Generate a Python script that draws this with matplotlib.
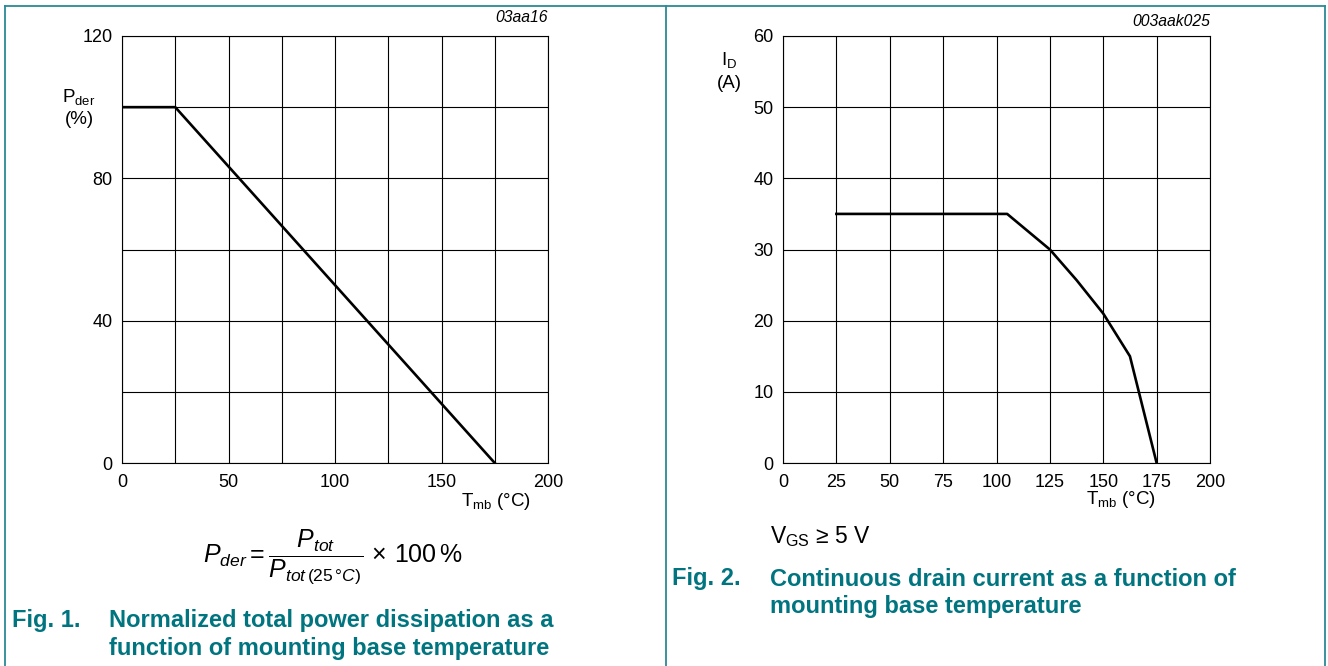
import numpy as np
import matplotlib.pyplot as plt
from matplotlib.lines import Line2D
from matplotlib.ticker import MultipleLocator

plt.rcParams['font.family'] = ['Liberation Sans', 'DejaVu Sans']
plt.rcParams['mathtext.fontset'] = 'custom'
plt.rcParams['mathtext.rm'] = 'Liberation Sans'
plt.rcParams['mathtext.it'] = 'Liberation Sans:italic'

# Fig. 1 - derating curve
pder_temp = [0, 25, 175]
pder_pct = [100, 100, 0]
pder_xticks = [0, 50, 100, 150, 200]
pder_yticks = [0, 40, 80, 120]

# Fig. 2 - drain current
id_temp = [25, 105, 125, 137.5, 150, 162.5, 175]
id_amps = [35, 35, 30, 25.7, 21, 15, 0]
id_xticks = [0, 25, 50, 75, 100, 125, 150, 175, 200]
id_yticks = [0, 10, 20, 30, 40, 50, 60]

teal = '#007580'
W, H = 1328, 666

fig = plt.figure(figsize=(W / 100, H / 100), dpi=100)

def fx(px):
    return px / W

def fy(py):
    return 1 - py / H

# frame lines
for x0, y0, x1, y1 in [(5, 6, 1325, 6), (5, 6, 5, 666), (666, 6, 666, 666), (1325, 6, 1325, 666)]:
    fig.add_artist(Line2D([fx(x0), fx(x1)], [fy(y0), fy(y1)], color='#2a8a96', lw=1.3))

def setup(ax, xmax, ymax, xminor, yminor, xticks, yticks):
    ax.set_xlim(0, xmax)
    ax.set_ylim(0, ymax)
    ax.set_xticks(xticks)
    ax.set_yticks(yticks)
    ax.xaxis.set_minor_locator(MultipleLocator(xminor))
    ax.yaxis.set_minor_locator(MultipleLocator(yminor))
    ax.grid(True, which='both', color='black', lw=0.8)
    ax.tick_params(which='both', length=0, labelsize=13, colors='black')
    ax.tick_params(axis='x', pad=8)
    ax.tick_params(axis='y', pad=7)
    for s in ax.spines.values():
        s.set_linewidth(0.8)
    ax.set_axisbelow(True)

ax1 = fig.add_axes([fx(122), fy(463), fx(426), 427 / H])
setup(ax1, 200, 120, 25, 20, pder_xticks, pder_yticks)
ax1.plot(pder_temp, pder_pct, color='black', lw=1.9)

ax2 = fig.add_axes([fx(783), fy(463), fx(427), 427 / H])
setup(ax2, 200, 60, 25, 10, id_xticks, id_yticks)
ax2.plot(id_temp, id_amps, color='black', lw=1.9)

# axis labels
lab = dict(ha='center', va='center', fontsize=13.5)
fig.text(fx(79), fy(97), r'P$_\mathrm{der}$', **lab)
fig.text(fx(79), fy(119), '(%)', **lab)
fig.text(fx(496), fy(502), r'T$_\mathrm{mb}$ (°C)', **lab)
fig.text(fx(548), fy(18), '03aa16', ha='right', va='center', fontsize=11.3, style='italic')

fig.text(fx(729), fy(60), r'I$_\mathrm{D}$', **lab)
fig.text(fx(729), fy(83), '(A)', **lab)
fig.text(fx(1121), fy(500), r'T$_\mathrm{mb}$ (°C)', **lab)
fig.text(fx(1210), fy(22), '003aak025', ha='right', va='center', fontsize=11.3, style='italic')

# formula and condition
fig.text(fx(333), fy(557),
         r'$P_{der} = \dfrac{P_{tot}}{P_{tot\,\mathrm{(25\,°}C\mathrm{)}}}\,\times\,\mathrm{100\,\%}$',
         ha='center', va='center', fontsize=18)
fig.text(fx(770), fy(537), r'V$_\mathrm{GS}$ ≥ 5 V', ha='left', va='center', fontsize=16.5)

# captions
cap = dict(color=teal, fontsize=17, fontweight='bold', va='center', ha='left')
fig.text(fx(12), fy(620), 'Fig. 1.', **cap)
fig.text(fx(109), fy(620), 'Normalized total power dissipation as a', **cap)
fig.text(fx(109), fy(648), 'function of mounting base temperature', **cap)
fig.text(fx(672), fy(579), 'Fig. 2.', **cap)
fig.text(fx(770), fy(579), 'Continuous drain current as a function of', **cap)
fig.text(fx(770), fy(607), 'mounting base temperature', **cap)

fig.savefig('out.png', dpi=100)
